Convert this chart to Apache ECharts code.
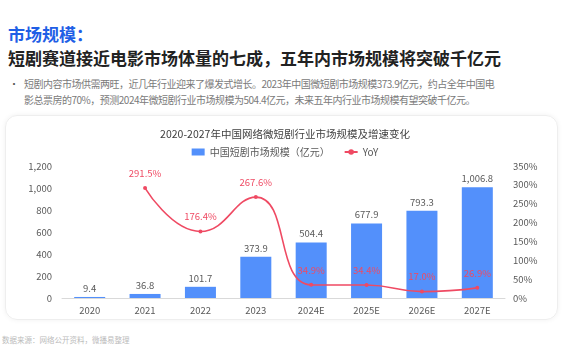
<!DOCTYPE html>
<html><head><meta charset="utf-8">
<script src="https://cdn.jsdelivr.net/npm/echarts@6/dist/echarts.min.js"></script>
<style>
html,body{margin:0;padding:0;background:#fff;width:570px;height:360px;overflow:hidden;font-family:"Noto Sans CJK SC","Noto Sans",sans-serif;}
.t1{position:absolute;left:8px;top:22px;font-size:17px;font-weight:bold;color:#1F5FE6;line-height:24px;}
.t2{position:absolute;left:8px;top:46px;font-size:17px;font-weight:bold;color:#222;line-height:24px;white-space:nowrap;}
.b{position:absolute;left:24px;top:76px;font-size:10px;letter-spacing:-0.5px;color:#7a7a7a;line-height:16px;white-space:nowrap;}
.dot{position:absolute;left:9px;top:76px;font-size:10px;color:#555;line-height:16px;}
.panel{position:absolute;left:5px;top:115px;width:551px;height:203px;border:1px solid #eeeeee;border-radius:12px;box-shadow:0 0 5px rgba(0,0,0,0.06);}
.src{position:absolute;left:2px;top:334px;font-size:7.5px;color:#bbb;}
#c{position:absolute;left:0;top:0;width:570px;height:360px;}
</style></head>
<body>
<div class="t1">市场规模：</div>
<div class="t2">短剧赛道接近电影市场体量的七成，五年内市场规模将突破千亿元</div>
<div class="dot">•</div>
<div class="b">短剧内容市场供需两旺，近几年行业迎来了爆发式增长。2023年中国微短剧市场规模373.9亿元，约占全年中国电<br>影总票房的70%，预测2024年微短剧行业市场规模为504.4亿元，未来五年内行业市场规模有望突破千亿元。</div>
<div class="panel"></div>
<div class="src">数据来源：网络公开资料，微播易整理</div>
<div id="c"></div>
<script>
const categories = ['2020','2021','2022','2023','2024E','2025E','2026E','2027E'];
const marketSize = [9.4, 36.8, 101.7, 373.9, 504.4, 677.9, 793.3, 1006.8];
const yoy = [null, 291.5, 176.4, 267.6, 34.9, 34.4, 17.0, 26.9];
const seriesNames = ['中国短剧市场规模（亿元）', 'YoY'];
const chartTitle = '2020-2027年中国网络微短剧行业市场规模及增速变化';

const chart = echarts.init(document.getElementById('c'), null, {renderer:'canvas'});
const ff = '"Noto Sans CJK SC","Noto Sans",sans-serif';
chart.setOption({
  backgroundColor: 'transparent',
  textStyle: {fontFamily: ff},
  title: {text: chartTitle, left: 'center', top: 124, textStyle: {fontSize: 10.5, fontWeight: 'normal', color: '#404040', fontFamily: ff}},
  legend: {top: 142, left: 'center', itemWidth: 13, itemHeight: 7, itemGap: 14,
    textStyle: {fontSize: 10, color: '#595959', fontFamily: ff},
    data: [{name: seriesNames[0], icon: 'rect'}, {name: seriesNames[1]}]},
  grid: {left: 62, right: 65, top: 166, bottom: 62},
  xAxis: {type: 'category', data: categories,
    axisLine: {lineStyle: {color: '#D9D9D9'}}, axisTick: {show: false},
    axisLabel: {fontSize: 9.5, color: '#595959', margin: 8}},
  yAxis: [
    {type: 'value', min: 0, max: 1200, interval: 200, splitLine: {show: false},
      axisLabel: {fontSize: 9.5, color: '#595959', margin: 10, formatter: v => v.toLocaleString('en-US')}},
    {type: 'value', min: 0, max: 350, interval: 50, splitLine: {show: false},
      axisLabel: {fontSize: 9.5, color: '#595959', margin: 8, formatter: '{value}%'}}
  ],
  series: [
    {name: seriesNames[0], type: 'bar', data: marketSize, barWidth: '56%',
      itemStyle: {color: '#5390FB'},
      label: {show: true, position: 'top', fontSize: 9.5, color: '#595959', distance: 4,
        formatter: p => p.value.toLocaleString('en-US', {minimumFractionDigits: 1, maximumFractionDigits: 1})}},
    {name: seriesNames[1], type: 'line', yAxisIndex: 1, data: yoy, smooth: 0.5,
      symbol: 'circle', symbolSize: 4, connectNulls: false,
      lineStyle: {color: '#EF4A63', width: 1.6}, itemStyle: {color: '#EF4A63'},
      label: {show: true, position: 'top', fontSize: 9.5, color: '#EF4A63', distance: 8,
        formatter: p => p.value.toFixed(1) + '%'}}
  ]
});
</script>
</body></html>
